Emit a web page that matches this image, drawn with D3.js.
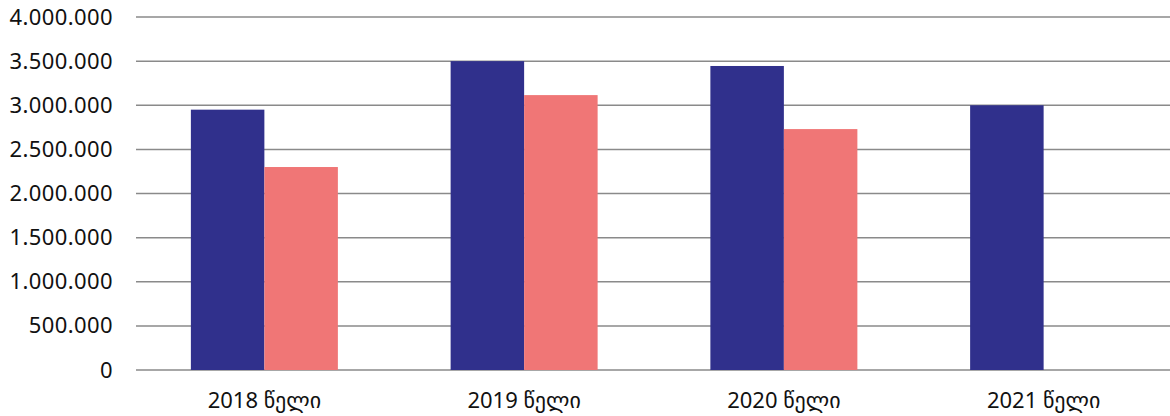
<!DOCTYPE html>
<html><head><meta charset="utf-8">
<script src="https://cdn.jsdelivr.net/npm/d3@7"></script>
<style>body{margin:0;background:#fff;} text{font-family:"Noto Sans","DejaVu Sans",sans-serif;fill:#111;}</style>
</head><body><svg id="c" width="1170" height="416"></svg>
<script>
const categories = ["2018 წელი","2019 წელი","2020 წელი","2021 წელი"];
const seriesA = [2950000, 3500000, 3445000, 3000000];
const seriesB = [2300000, 3115000, 2730000, null];
const yTicks = [0,500000,1000000,1500000,2000000,2500000,3000000,3500000,4000000];
const seriesColors = ["#30308C","#F07676"];

const svg = d3.select("#c");
const W = 1170, H = 416;
const gridLeft = 136;
const x = d3.scaleBand().domain(categories).range([134.5, 1173.5]).paddingInner(0).paddingOuter(0);
const y = d3.scaleLinear().domain([0,4000000]).range([370, 17]);
const groupW = 147;
const x1 = d3.scaleBand().domain([0,1]).range([0,groupW]);

const fmt = v => d3.format(",")(v).replace(/,/g,".");
svg.append("g").selectAll("line").data(yTicks).join("line")
  .attr("x1", gridLeft).attr("x2", W).attr("y1", d=>y(d)).attr("y2", d=>y(d))
  .attr("stroke","#8a8a8a").attr("stroke-width",1.5);

const data = categories.map((c,i)=>({c, vals:[seriesA[i], seriesB[i]]}));
const g = svg.append("g").selectAll("g").data(data).join("g")
  .attr("transform", d=>`translate(${x(d.c)+x.bandwidth()/2-groupW/2},0)`);
g.selectAll("rect").data(d=>d.vals.map((v,k)=>({v,k})).filter(e=>e.v!=null)).join("rect")
  .attr("x", e=>x1(e.k)).attr("width", x1.bandwidth())
  .attr("y", e=>y(e.v)).attr("height", e=>y(0)-y(e.v))
  .attr("fill", e=>seriesColors[e.k]);

const yAxis = d3.axisLeft(y).tickValues(yTicks).tickFormat(fmt).tickSize(0).tickPadding(0);
const ya = svg.append("g").attr("transform",`translate(113,0)`).call(yAxis);
ya.select(".domain").remove();
ya.selectAll("text").style("font-size","22px").style("letter-spacing","0.4px").attr("fill","#111");

const xAxis = d3.axisBottom(x).tickSize(0).tickPadding(0);
const xa = svg.append("g").attr("transform",`translate(0,${H-8})`).call(xAxis);
xa.select(".domain").remove();
xa.selectAll("text").style("font-size","22px").attr("fill","#111").attr("dy","0");
</script></body></html>
